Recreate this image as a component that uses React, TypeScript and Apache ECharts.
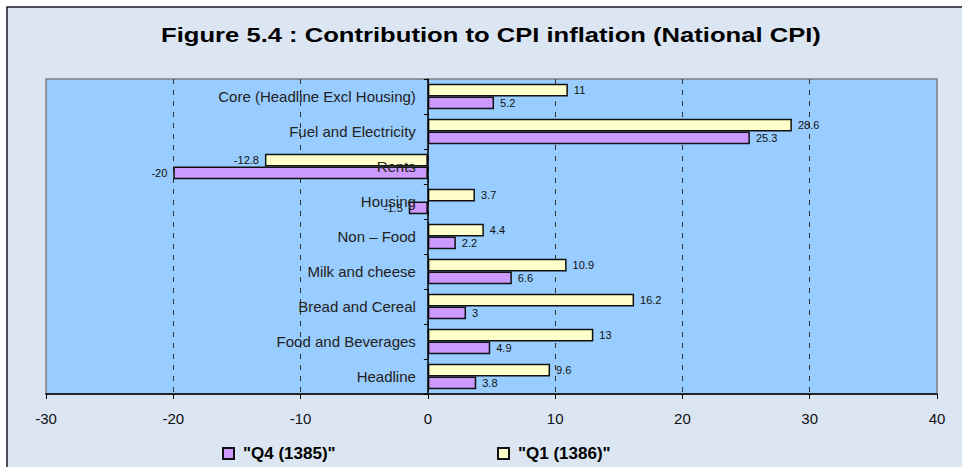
import React, { useEffect, useRef } from "react";
import * as echarts from "echarts";

const categories = [
  "Headline",
  "Food and Beverages",
  "Bread and Cereal",
  "Milk and cheese",
  "Non – Food",
  "Housing",
  "Rents",
  "Fuel and Electricity",
  "Core (Headline Excl Housing)",
];
const q4Values = [3.8, 4.9, 3, 6.6, 2.2, -1.5, -20, 25.3, 5.2];
const q1Values = [9.6, 13, 16.2, 10.9, 4.4, 3.7, -12.8, 28.6, 11];
const seriesNames = ['"Q4 (1385)"', '"Q1 (1386)"'];
const titleText = "Figure 5.4 : Contribution to CPI inflation (National CPI)";

const FONT = "Arial, 'Liberation Sans', sans-serif";

function toItems(vals: number[]) {
  return vals.map((v) => ({
    value: v,
    label: { position: v < 0 ? "left" : "right" },
  }));
}

export default function App() {
  const ref = useRef<HTMLDivElement>(null);
  useEffect(() => {
    if (!ref.current) return;
    const chart = echarts.init(ref.current, undefined, { renderer: "svg" });
    const barLabel = {
      show: true,
      fontSize: 11,
      fontFamily: FONT,
      color: "#111",
      distance: 6,
      formatter: "{c}",
    };
    const gridLeft = 46;
    const gridRight = 25;
    const xMin = -30;
    const xMax = 40;
    const plotW = 962 - gridLeft - gridRight;
    const zeroOffset = ((0 - xMin) / (xMax - xMin)) * plotW;
    chart.setOption({
      animation: false,
      backgroundColor: "#ffffff",
      textStyle: { fontFamily: FONT },
      graphic: [
        {
          type: "rect",
          z: -10,
          shape: { x: 7, y: 7, width: 980, height: 480 },
          style: { fill: "#dbe6f2", stroke: "#1b1b2a", lineWidth: 1.5 },
        },
        {
          type: "text",
          z: 10,
          x: 491,
          y: 35,
          scaleX: 1.28,
          style: {
            text: titleText,
            font: `bold 20px ${FONT}`,
            fill: "#000",
            align: "center",
            verticalAlign: "middle",
          },
        },
      ],
      legend: [
        {
          data: [seriesNames[0]],
          left: 217,
          top: 440,
          icon: "rect",
          itemWidth: 11,
          itemHeight: 11,
          textStyle: { fontSize: 17, fontWeight: "bold", color: "#000", fontFamily: FONT, padding: [0, 0, 0, 4] },
        },
        {
          data: [seriesNames[1]],
          left: 492,
          top: 440,
          icon: "rect",
          itemWidth: 11,
          itemHeight: 11,
          textStyle: { fontSize: 17, fontWeight: "bold", color: "#000", fontFamily: FONT, padding: [0, 0, 0, 4] },
        },
      ],
      grid: {
        left: gridLeft,
        right: gridRight,
        top: 79,
        bottom: 73,
        show: true,
        backgroundColor: "#99ccff",
        borderColor: "#808080",
        borderWidth: 1.5,
        containLabel: false,
        outerBoundsMode: "none",
      },
      xAxis: {
        type: "value",
        min: xMin,
        max: xMax,
        interval: 10,
        axisLine: { show: true, onZero: false, lineStyle: { color: "#000", width: 1.5 } },
        axisTick: { show: true, length: 5, lineStyle: { color: "#000" } },
        axisLabel: { fontSize: 15, color: "#111", margin: 17, fontFamily: FONT },
        splitLine: {
          show: true,
          showMinLine: false,
          showMaxLine: false,
          lineStyle: { color: "#333", type: [5, 6], width: 1 },
        },
      },
      yAxis: {
        type: "category",
        data: categories,
        z: 5,
        offset: -zeroOffset,
        axisLine: { show: true, onZero: false, lineStyle: { color: "#000", width: 1.5 } },
        axisTick: { show: true, length: 4, lineStyle: { color: "#000" } },
        axisLabel: { fontSize: 15, color: "#222", margin: 12, fontFamily: FONT },
        splitLine: { show: false },
      },
      series: [
        {
          name: seriesNames[1],
          type: "bar",
          data: toItems(q1Values),
          barGap: "0%",
          barCategoryGap: "27%",
          itemStyle: { color: "#ffffcc", borderColor: "#111", borderWidth: 1.5 },
          label: barLabel,
        },
        {
          name: seriesNames[0],
          type: "bar",
          data: toItems(q4Values),
          barGap: "0%",
          barCategoryGap: "27%",
          itemStyle: { color: "#cc99ff", borderColor: "#111", borderWidth: 1.5 },
          label: barLabel,
        },
      ],
    });
    return () => chart.dispose();
  }, []);
  return (
    <div
      ref={ref}
      style={{ position: "fixed", left: 0, top: 0, width: 962, height: 467 }}
    />
  );
}
